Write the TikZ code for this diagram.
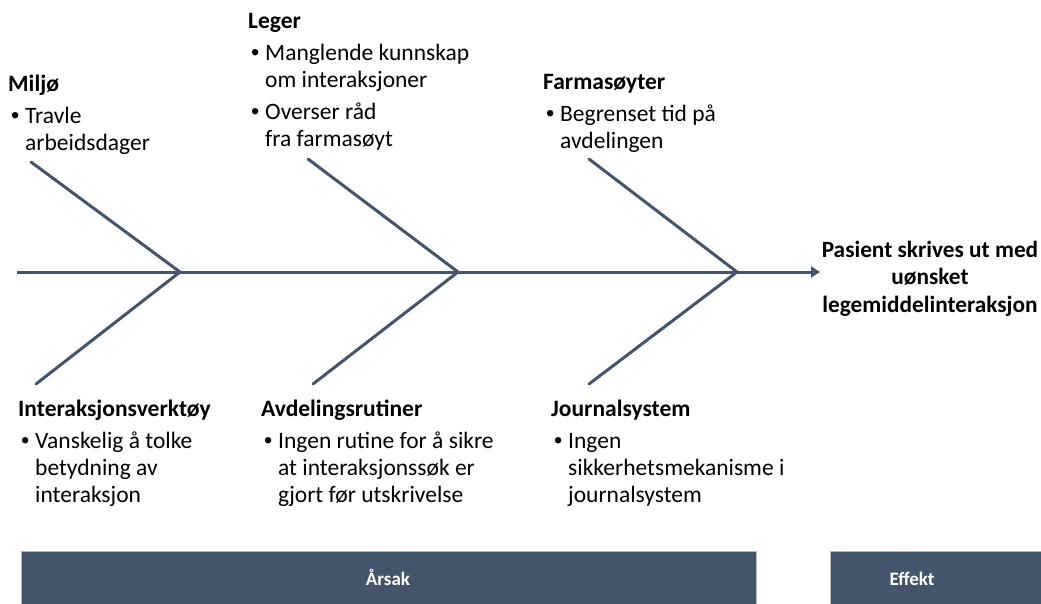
\documentclass[tikz,border=0pt]{standalone}
\usepackage{fontspec}
\setmainfont{Carlito}
\newfontfamily\bulfont{Liberation Sans}
\usetikzlibrary{arrows.meta}
\definecolor{slate}{RGB}{68,84,106}
\newcommand{\bul}[1]{\hspace*{3pt}\makebox[14pt][l]{\bulfont •}#1}
\newcommand{\cont}[1]{\hspace*{17pt}#1}
\begin{document}
\begin{tikzpicture}[x=1pt,y=-1pt,
  bone/.style={draw=slate,line width=3pt,line cap=round},
  spine/.style={draw=slate,line width=3pt,-{Triangle[length=9pt,width=11pt]}},
  block/.style={anchor=base west,inner sep=0pt,font=\fontsize{23.5}{27}\selectfont},
  effect/.style={anchor=base,inner sep=0pt,align=center,font=\fontsize{23.3}{27.5}\selectfont\bfseries},
  bar/.style={fill=slate,draw=gray!55,line width=0.8pt,anchor=north west,inner sep=0pt},
  barlabel/.style={text=white,inner sep=0pt,anchor=base,font=\fontsize{19}{22}\selectfont\bfseries}]
\useasboundingbox (0,0) rectangle (1041,603);

% spine
\coordinate (s0) at (17,272);
\coordinate (j1) at (180,272);
\coordinate (j2) at (458,272);
\coordinate (j3) at (737,272);
\coordinate (tip) at (820,272);
\draw[spine] (s0) -- (tip);

% branch ends
\coordinate (u1) at (31,162);
\coordinate (u2) at (308,159);
\coordinate (u3) at (589,159);
\coordinate (l1) at (36,384);
\coordinate (l2) at (313,384);
\coordinate (l3) at (589,384);
\draw[bone] (u1) -- (j1) -- (l1);
\draw[bone] (u2) -- (j2) -- (l2);
\draw[bone] (u3) -- (j3) -- (l3);

% cause texts
\node[block] (miljo) at (8,91) {\begin{tabular}[t]{@{}l@{}}\textbf{Miljø}\\[5pt]
  \bul{Travle}\\ \cont{arbeidsdager}\end{tabular}};
\node[block] (leger) at (248,28) {\begin{tabular}[t]{@{}l@{}}\textbf{Leger}\\[5pt]
  \bul{Manglende kunnskap}\\ \cont{om interaksjoner}\\[5pt]
  \bul{Overser råd}\\ \cont{fra farmasøyt}\end{tabular}};
\node[block] (farm) at (543,89) {\begin{tabular}[t]{@{}l@{}}\textbf{Farmasøyter}\\[5pt]
  \bul{Begrenset tid på}\\ \cont{avdelingen}\end{tabular}};
\node[block] (verktoy) at (18,416) {\begin{tabular}[t]{@{}l@{}}\textbf{Interaksjonsverktøy}\\[5pt]
  \bul{Vanskelig å tolke}\\ \cont{betydning av}\\ \cont{interaksjon}\end{tabular}};
\node[block] (rutiner) at (261,416) {\begin{tabular}[t]{@{}l@{}}\textbf{Avdelingsrutiner}\\[5pt]
  \bul{Ingen rutine for å sikre}\\ \cont{at interaksjonssøk er}\\ \cont{gjort før utskrivelse}\end{tabular}};
\node[block] (journal) at (551,416) {\begin{tabular}[t]{@{}l@{}}\textbf{Journalsystem}\\[5pt]
  \bul{Ingen}\\ \cont{sikkerhetsmekanisme i}\\ \cont{journalsystem}\end{tabular}};

% effect
\node[effect] (eff) at (930,257) {\begin{tabular}[t]{@{}c@{}}Pasient skrives ut med\\ uønsket\\ legemiddelinteraksjon\end{tabular}};

% bars
\node[bar,minimum width=735.3pt,minimum height=60pt] (causebar) at (20.7,550.7) {};
\node[barlabel] (causelabel) at (388,585) {Årsak};
\node[bar,minimum width=230pt,minimum height=60pt] (effbar) at (830,550.7) {};
\node[barlabel] (efflabel) at (912,585) {Effekt};
\end{tikzpicture}
\end{document}
